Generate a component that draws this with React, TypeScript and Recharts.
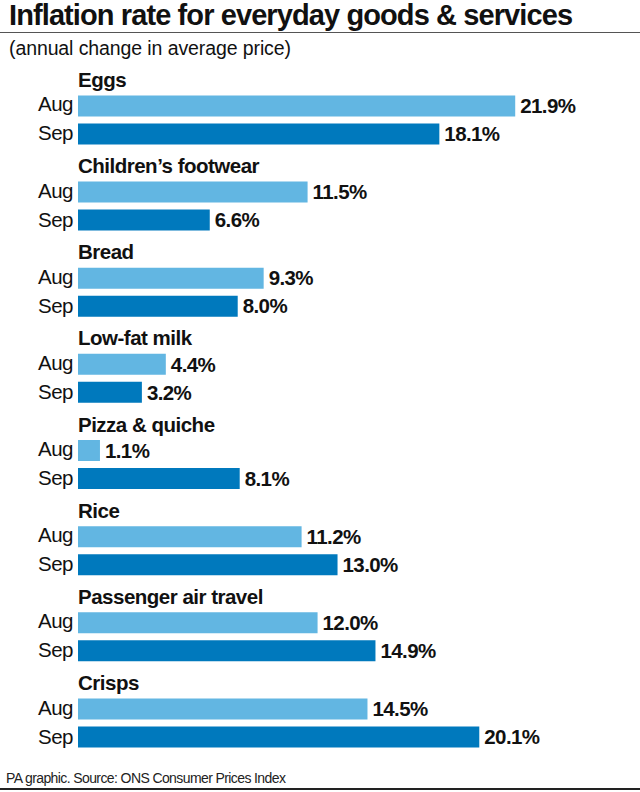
import { BarChart, Bar, XAxis, YAxis, LabelList } from "recharts";

const categories = [
  "Eggs",
  "Children’s footwear",
  "Bread",
  "Low-fat milk",
  "Pizza & quiche",
  "Rice",
  "Passenger air travel",
  "Crisps",
];
const augValues = [21.9, 11.5, 9.3, 4.4, 1.1, 11.2, 12.0, 14.5];
const sepValues = [18.1, 6.6, 8.0, 3.2, 8.1, 13.0, 14.9, 20.1];
const seriesLabels = ["Aug", "Sep"];

const AUG_COLOR = "#62b6e2";
const SEP_COLOR = "#0079bd";
const FONT = "'Liberation Sans', Arial, sans-serif";

const data = categories.map((name, i) => ({ name, aug: augValues[i], sep: sepValues[i] }));

function CategoryTick(props: any) {
  const { y, payload } = props;
  return (
    <g fontFamily={FONT} fill="#111">
      <text x={78} y={y - 32.5} fontSize={20.5} fontWeight={700} letterSpacing={-0.5}>
        {payload.value}
      </text>
      <text x={73} y={y - 8} fontSize={20.5} textAnchor="end" letterSpacing={-0.5}>
        {seriesLabels[0]}
      </text>
      <text x={73} y={y + 21} fontSize={20.5} textAnchor="end" letterSpacing={-0.5}>
        {seriesLabels[1]}
      </text>
    </g>
  );
}

const fmt = (v: any) => `${Number(v).toFixed(1)}%`;

export default function App() {
  return (
    <div style={{ position: "absolute", left: 0, top: 0, width: 640, height: 792, background: "#fff", fontFamily: FONT, color: "#111" }}>
      <div style={{ position: "absolute", left: 9, top: 0, fontSize: 29, fontWeight: 700, letterSpacing: -0.9, whiteSpace: "nowrap", lineHeight: "31px" }}>
        Inflation rate for everyday goods &amp; services
      </div>
      <div style={{ position: "absolute", left: 0, top: 32, width: 640, height: 1, background: "#555" }} />
      <div style={{ position: "absolute", left: 9, top: 37, fontSize: 19.5, letterSpacing: -0.1, whiteSpace: "nowrap", lineHeight: "22px" }}>
        (annual change in average price)
      </div>
      <div style={{ position: "absolute", left: 0, top: 0 }}>
        <BarChart
          width={640}
          height={792}
          data={data}
          layout="vertical"
          margin={{ top: 76.4, right: 3, bottom: 26.4, left: 0 }}
          barGap={7}
          barCategoryGap={0}
        >
          <XAxis type="number" domain={[0, 28]} hide />
          <YAxis
            type="category"
            dataKey="name"
            width={78}
            axisLine={false}
            tickLine={false}
            tick={<CategoryTick />}
            interval={0}
          />
          <Bar dataKey="aug" fill={AUG_COLOR} barSize={21} isAnimationActive={false}>
            <LabelList dataKey="aug" position="right" offset={5} formatter={fmt} fill="#111" fontSize={20.5} fontWeight={700} fontFamily={FONT} letterSpacing={-0.6} />
          </Bar>
          <Bar dataKey="sep" fill={SEP_COLOR} barSize={21} isAnimationActive={false}>
            <LabelList dataKey="sep" position="right" offset={5} formatter={fmt} fill="#111" fontSize={20.5} fontWeight={700} fontFamily={FONT} letterSpacing={-0.6} />
          </Bar>
        </BarChart>
      </div>
      <div style={{ position: "absolute", left: 6, top: 769, fontSize: 14, letterSpacing: -0.6, whiteSpace: "nowrap", lineHeight: "18px", color: "#222" }}>
        PA graphic. Source: ONS Consumer Prices Index
      </div>
      <div style={{ position: "absolute", left: 0, top: 788, width: 640, height: 2, background: "#222" }} />
    </div>
  );
}
